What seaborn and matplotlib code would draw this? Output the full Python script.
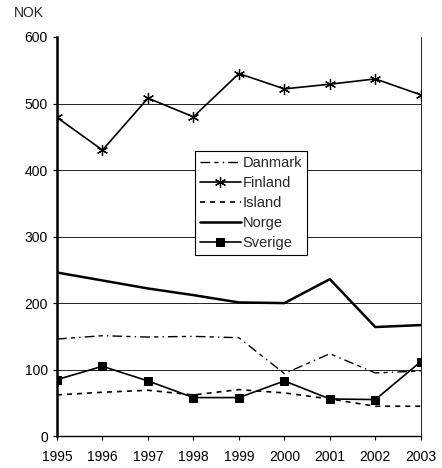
import matplotlib
matplotlib.use("Agg")
import matplotlib.pyplot as plt
import seaborn as sns

years = [1995, 1996, 1997, 1998, 1999, 2000, 2001, 2002, 2003]
danmark = [146, 151, 149, 150, 148, 94, 124, 95, 98]
finland = [479, 430, 508, 480, 545, 522, 529, 537, 513]
island = [62, 66, 69, 62, 70, 65, 56, 45, 45]
norge = [246, 234, 222, 212, 201, 200, 236, 164, 167]
sverige = [85, 105, 83, 58, 58, 83, 56, 55, 112]

sns.set_style("white")
plt.rcParams['font.family'] = ['Liberation Sans', 'DejaVu Sans']

fig = plt.figure(figsize=(4.42, 4.68), dpi=100)
ax = fig.add_axes([0.129, 0.068, 0.823, 0.853])

for y in range(100, 600, 100):
    ax.axhline(y, color="black", lw=0.6, zorder=0)

sns.lineplot(x=years, y=danmark, ax=ax, color="black", lw=1.0,
             linestyle=(0, (7, 3, 3, 3, 1, 3)), label="Danmark")
sns.lineplot(x=years, y=finland, ax=ax, color="black", lw=1.2, linestyle="-",
             marker=(6, 2, 0), markersize=8, markeredgewidth=0.9,
             markeredgecolor="black", label="Finland")
sns.lineplot(x=years, y=island, ax=ax, color="black", lw=1.2,
             linestyle=(0, (3, 3)), label="Island")
sns.lineplot(x=years, y=norge, ax=ax, color="black", lw=1.8, linestyle="-",
             label="Norge")
sns.lineplot(x=years, y=sverige, ax=ax, color="black", lw=1.2, linestyle="-",
             marker="s", markersize=6, markeredgecolor="black", label="Sverige")

ax.set_xlim(1995, 2003)
ax.set_ylim(0, 600)
ax.set_xticks(years)
ax.set_yticks(range(0, 700, 100))
ax.tick_params(axis="both", direction="out", length=3, width=0.8,
               labelsize=10, colors="black", bottom=True, left=True)
ax.tick_params(axis="x", pad=7)
ax.set_xlabel("")
ax.set_ylabel("")

for side in ["left", "bottom"]:
    ax.spines[side].set_color("black")
ax.spines["left"].set_linewidth(1.8)
ax.spines["bottom"].set_linewidth(1.0)
ax.spines["top"].set_visible(False)
ax.spines["right"].set_color("black")
ax.spines["right"].set_linewidth(0.6)

fig.text(0.032, 0.958, "NOK", fontsize=10, va="bottom")

leg = ax.legend(loc="upper left", bbox_to_anchor=(0.379, 0.715),
                borderaxespad=0, fontsize=10.5, handlelength=2.8,
                handletextpad=0.1, labelspacing=0.42, borderpad=0.35,
                fancybox=False, framealpha=1)
leg.get_frame().set_edgecolor("black")
leg.get_frame().set_linewidth(0.8)

fig.savefig("out.png", dpi=100)
